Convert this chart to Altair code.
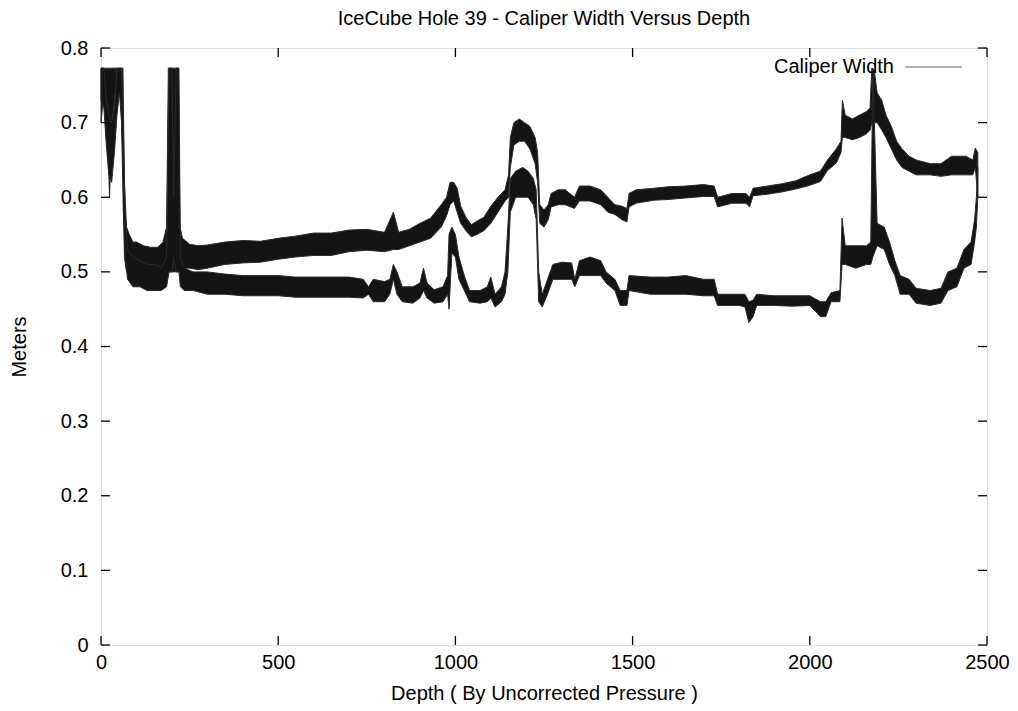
import altair as alt
import pandas as pd

# ---- data ----
# pass 1 (upper trace): depth, low edge, high edge of the noisy band (meters)
up_depth = [0, 8, 16, 24, 32, 40, 48, 56, 62, 66, 72, 80, 90, 100, 120, 140, 160, 175, 185,
            190, 200, 210, 218, 223, 230, 250, 275, 300, 350, 400, 450, 500, 550, 600, 650,
            700, 750, 800, 825, 840, 870, 900, 930, 960, 975, 985, 995, 1005, 1015, 1030,
            1045, 1060, 1080, 1100, 1120, 1140, 1150, 1155, 1165, 1180, 1195, 1210, 1225,
            1232, 1238, 1250, 1262, 1270, 1290, 1310, 1336, 1350, 1380, 1410, 1430, 1450,
            1470, 1484, 1490, 1510, 1560, 1600, 1650, 1700, 1730, 1740, 1780, 1820, 1830,
            1840, 1880, 1920, 1960, 2000, 2030, 2050, 2075, 2088, 2092, 2100, 2120, 2140,
            2160, 2170, 2175, 2182, 2190, 2203, 2215, 2230, 2245, 2260, 2280, 2300, 2340,
            2370, 2400, 2440, 2460, 2467, 2474]
up_lo = [0.70, 0.74, 0.73, 0.60, 0.70, 0.74, 0.75, 0.74, 0.65, 0.52, 0.50, 0.50, 0.50, 0.49,
         0.49, 0.488, 0.49, 0.49, 0.50, 0.50, 0.50, 0.50, 0.50, 0.50, 0.505, 0.505, 0.503,
         0.505, 0.51, 0.512, 0.513, 0.517, 0.52, 0.522, 0.522, 0.527, 0.529, 0.527, 0.53,
         0.53, 0.535, 0.54, 0.545, 0.56, 0.575, 0.59, 0.595, 0.58, 0.565, 0.555, 0.547,
         0.55, 0.555, 0.565, 0.58, 0.595, 0.60, 0.64, 0.67, 0.675, 0.675, 0.665, 0.645,
         0.62, 0.565, 0.56, 0.57, 0.587, 0.59, 0.59, 0.585, 0.595, 0.595, 0.59, 0.58,
         0.577, 0.57, 0.567, 0.587, 0.592, 0.596, 0.597, 0.599, 0.601, 0.601, 0.587, 0.592,
         0.592, 0.587, 0.602, 0.604, 0.607, 0.611, 0.616, 0.621, 0.636, 0.646, 0.66, 0.68,
         0.68, 0.677, 0.68, 0.685, 0.69, 0.70, 0.70, 0.70, 0.69, 0.68, 0.665, 0.65, 0.64,
         0.635, 0.63, 0.63, 0.628, 0.63, 0.63, 0.63, 0.64, 0.60]
up_hi = [0.773, 0.773, 0.773, 0.773, 0.773, 0.773, 0.773, 0.773, 0.773, 0.62, 0.56, 0.55,
         0.54, 0.54, 0.535, 0.533, 0.533, 0.54, 0.56, 0.773, 0.773, 0.773, 0.773, 0.56,
         0.545, 0.537, 0.535, 0.536, 0.54, 0.542, 0.541, 0.545, 0.548, 0.552, 0.552, 0.556,
         0.557, 0.553, 0.58, 0.553, 0.557, 0.565, 0.572, 0.59, 0.60, 0.62, 0.62, 0.612,
         0.588, 0.573, 0.563, 0.568, 0.573, 0.588, 0.60, 0.61, 0.63, 0.68, 0.70, 0.705,
         0.70, 0.695, 0.68, 0.66, 0.59, 0.583, 0.59, 0.605, 0.61, 0.61, 0.60, 0.615, 0.615,
         0.61, 0.60, 0.59, 0.588, 0.585, 0.605, 0.61, 0.612, 0.614, 0.615, 0.617, 0.615,
         0.60, 0.605, 0.605, 0.60, 0.612, 0.615, 0.618, 0.622, 0.63, 0.635, 0.65, 0.665,
         0.675, 0.73, 0.71, 0.705, 0.71, 0.715, 0.72, 0.773, 0.77, 0.74, 0.73, 0.71, 0.695,
         0.675, 0.665, 0.655, 0.65, 0.645, 0.645, 0.655, 0.655, 0.65, 0.666, 0.66]

# pass 2 (lower trace)
dn_depth = [0, 8, 15, 22, 30, 38, 45, 52, 58, 63, 68, 75, 90, 110, 130, 150, 170, 185, 192,
            200, 205, 212, 220, 224, 235, 260, 300, 350, 400, 450, 500, 550, 600, 650, 700,
            740, 755, 768, 800, 815, 825, 835, 850, 880, 900, 910, 920, 940, 965, 978, 982,
            990, 1000, 1010, 1025, 1040, 1070, 1090, 1100, 1112, 1130, 1140, 1148, 1155,
            1170, 1190, 1205, 1220, 1228, 1235, 1245, 1260, 1275, 1300, 1328, 1337, 1350,
            1380, 1410, 1425, 1450, 1465, 1484, 1490, 1550, 1600, 1650, 1700, 1730, 1740,
            1800, 1817, 1828, 1840, 1850, 1900, 1950, 2000, 2030, 2045, 2060, 2085, 2091,
            2100, 2130, 2160, 2172, 2178, 2190, 2210, 2225, 2240, 2255, 2280, 2300, 2340,
            2370, 2390, 2415, 2435, 2455, 2465, 2470, 2474]
dn_lo = [0.73, 0.72, 0.67, 0.63, 0.62, 0.66, 0.71, 0.74, 0.70, 0.58, 0.52, 0.49, 0.48, 0.48,
         0.475, 0.475, 0.475, 0.48, 0.50, 0.50, 0.52, 0.50, 0.50, 0.48, 0.475, 0.475, 0.47,
         0.47, 0.468, 0.468, 0.468, 0.466, 0.466, 0.466, 0.466, 0.465, 0.47, 0.46, 0.46,
         0.47, 0.49, 0.47, 0.46, 0.458, 0.465, 0.475, 0.465, 0.458, 0.46, 0.47, 0.45,
         0.525, 0.52, 0.49, 0.475, 0.46, 0.458, 0.46, 0.465, 0.453, 0.46, 0.47, 0.50, 0.58,
         0.60, 0.60, 0.60, 0.59, 0.57, 0.46, 0.453, 0.47, 0.49, 0.49, 0.49, 0.48, 0.495,
         0.495, 0.495, 0.485, 0.475, 0.455, 0.455, 0.475, 0.47, 0.47, 0.47, 0.468, 0.468,
         0.455, 0.455, 0.453, 0.432, 0.44, 0.455, 0.455, 0.454, 0.455, 0.44, 0.44, 0.46,
         0.46, 0.51, 0.51, 0.505, 0.51, 0.51, 0.52, 0.535, 0.53, 0.51, 0.495, 0.47, 0.47,
         0.458, 0.455, 0.458, 0.475, 0.48, 0.505, 0.51, 0.54, 0.56, 0.60]
dn_hi = [0.773, 0.773, 0.73, 0.71, 0.70, 0.72, 0.773, 0.773, 0.773, 0.70, 0.58, 0.53, 0.52,
         0.515, 0.51, 0.51, 0.505, 0.52, 0.773, 0.773, 0.60, 0.773, 0.773, 0.52, 0.505,
         0.50, 0.50, 0.497, 0.495, 0.495, 0.495, 0.493, 0.493, 0.493, 0.493, 0.49, 0.48,
         0.49, 0.487, 0.49, 0.51, 0.50, 0.48, 0.48, 0.485, 0.505, 0.485, 0.476, 0.48,
         0.495, 0.55, 0.56, 0.55, 0.52, 0.495, 0.475, 0.475, 0.48, 0.493, 0.47, 0.48, 0.50,
         0.56, 0.625, 0.635, 0.64, 0.635, 0.625, 0.61, 0.50, 0.47, 0.49, 0.51, 0.513,
         0.512, 0.49, 0.515, 0.52, 0.515, 0.50, 0.49, 0.475, 0.475, 0.495, 0.493, 0.493,
         0.495, 0.49, 0.49, 0.47, 0.47, 0.47, 0.46, 0.462, 0.47, 0.468, 0.468, 0.468, 0.46,
         0.46, 0.472, 0.475, 0.572, 0.535, 0.535, 0.535, 0.54, 0.773, 0.565, 0.56, 0.54,
         0.515, 0.495, 0.49, 0.478, 0.475, 0.478, 0.50, 0.505, 0.53, 0.54, 0.57, 0.60, 0.64]

x_ticks = [0, 500, 1000, 1500, 2000, 2500]
y_ticks = [0, 0.1, 0.2, 0.3, 0.4, 0.5, 0.6, 0.7, 0.8]

title_text = "IceCube Hole 39 - Caliper Width Versus Depth"
x_title = "Depth ( By Uncorrected Pressure )"
y_title = "Meters"
legend_label = "Caliper Width"

# ---- tables ----
band = pd.concat([
    pd.DataFrame({"pass": "up", "depth": up_depth, "lo": up_lo, "hi": up_hi}),
    pd.DataFrame({"pass": "down", "depth": dn_depth, "lo": dn_lo, "hi": dn_hi}),
], ignore_index=True)
xt = pd.DataFrame({"t": x_ticks})
yt = pd.DataFrame({"t": y_ticks})

W, H = 886, 597
FONT = "Liberation Sans"
FS = 20
TICK = 9

xscale = alt.Scale(domain=[0, 2500], nice=False, zero=False)
yscale = alt.Scale(domain=[0, 0.8], nice=False, zero=False)

xaxis = alt.Axis(values=x_ticks, title=x_title, grid=False, ticks=False, domain=False,
                 format="d", labelFlush=False,
                 labelFontSize=FS, labelFont=FONT, labelColor="black", labelPadding=7,
                 titleFontSize=FS, titleFont=FONT, titleFontWeight="normal", titleColor="black",
                 titleY=48, titleBaseline="middle")
yaxis = alt.Axis(values=y_ticks, title=y_title, grid=False, ticks=False, domain=False,
                 labelFlush=False,
                 labelFontSize=FS, labelFont=FONT, labelColor="black", labelPadding=13,
                 labelExpr="datum.value == 0 ? '0' : format(datum.value, '.1f')",
                 titleFontSize=FS, titleFont=FONT, titleFontWeight="normal", titleColor="black",
                 titleX=-82, titleY=H / 2, titleBaseline="middle", titleAlign="center", titleAngle=-90)

area = alt.Chart(band).mark_area(color="#141414", stroke="#2a2a2a", strokeWidth=1).encode(
    x=alt.X("depth:Q", scale=xscale, axis=xaxis),
    y=alt.Y("lo:Q", scale=yscale, axis=yaxis),
    y2="hi:Q",
    detail="pass:N",
)

tick_style = dict(color="black", strokeWidth=1.3)
t_bottom = alt.Chart(xt).mark_rule(**tick_style).encode(
    x="t:Q", y=alt.value(H), y2=alt.value(H - TICK))
t_top = alt.Chart(xt).mark_rule(**tick_style).encode(
    x="t:Q", y=alt.value(0), y2=alt.value(TICK))
t_left = alt.Chart(yt).mark_rule(**tick_style).encode(
    y="t:Q", x=alt.value(0), x2=alt.value(TICK))
t_right = alt.Chart(yt).mark_rule(**tick_style).encode(
    y="t:Q", x=alt.value(W - TICK), x2=alt.value(W))

leg_text = alt.Chart(pd.DataFrame({"label": [legend_label]})).mark_text(
    align="right", baseline="middle", font=FONT, fontSize=FS, color="black").encode(
    text="label:N", x=alt.value(793), y=alt.value(19))
leg_line = alt.Chart(pd.DataFrame({"label": [legend_label]})).mark_rule(
    color="#9a9a9a", strokeWidth=1.3).encode(
    x=alt.value(804), x2=alt.value(861), y=alt.value(19))

chart = alt.layer(area, t_bottom, t_top, t_left, t_right, leg_text, leg_line).properties(
    width=W, height=H,
    title=alt.TitleParams(text=title_text, fontSize=FS, font=FONT, fontWeight="normal",
                          color="black", anchor="middle", offset=9),
    autosize=alt.AutoSizeParams(type="none"),
    padding={"left": 93, "top": 40, "right": 23, "bottom": 60},
).configure_view(stroke="black", strokeWidth=2).configure(background="white")

chart.save("out.html", embed_options={"renderer": "svg", "actions": False})
